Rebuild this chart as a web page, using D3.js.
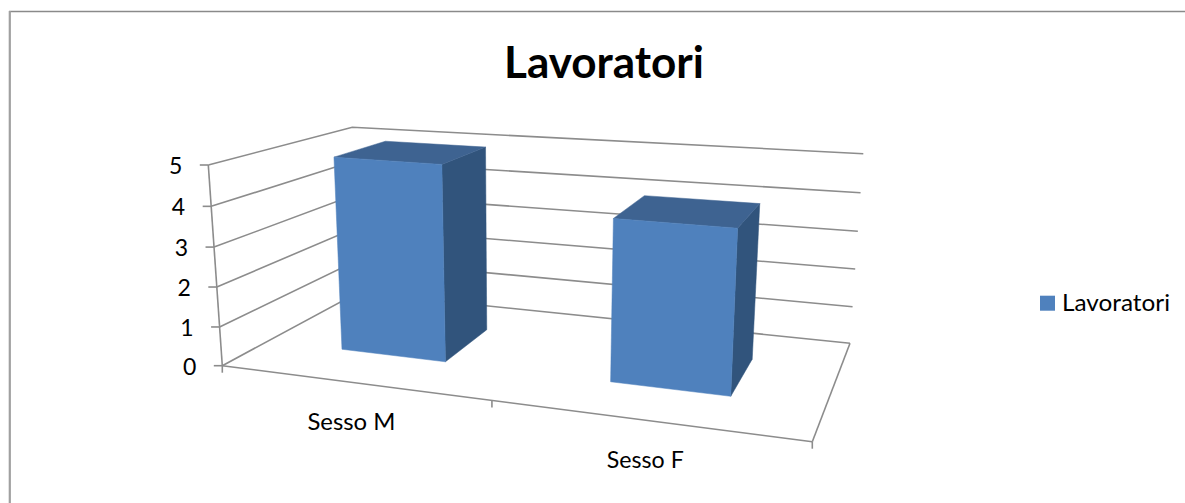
<!DOCTYPE html>
<html>
<head>
<meta charset="utf-8">
<script src="https://cdnjs.cloudflare.com/ajax/libs/d3/7.8.5/d3.min.js"></script>
<style>
html,body{margin:0;padding:0;background:#fff;overflow:hidden}
svg{display:block}
text{font-family:Lato,"Open Sans",sans-serif;fill:#000}
</style>
</head>
<body>
<svg id="chart" width="1185" height="503"></svg>
<script>
// Data
const chartTitle = "Lavoratori";
const seriesName = "Lavoratori";
const categories = ["Sesso M", "Sesso F"];
const seriesValues = [5, 4];
const valueTicks = [0, 1, 2, 3, 4, 5];

// Colours
const colFront = "#4f81bd", colTop = "#3e6391", colSide = "#31547c", colLine = "#8c8c8c";

// Screen position of the 8 corners of the chart box, indexed [x][value][depth]
const box = {
  "000": [222.3, 365.7], "100": [812.3, 441.7],
  "001": [358.0, 292.5], "101": [850.0, 343.3],
  "010": [208.3, 165.0], "110": [824.7, 211.0],
  "011": [352.3, 127.3], "111": [863.3, 153.7]
};

// Scales
const band = d3.scaleBand().domain(categories).range([0, 1]).paddingInner(0.6).paddingOuter(0.3);
const foreshorten = d3.scaleLinear()
  .domain([0, 0.15, 0.35, 0.5, 0.65, 0.85, 1])
  .range([0, 0.131, 0.317, 0.457, 0.614, 0.83, 1]);
const yScale = d3.scaleLinear().domain(valueTicks).range([0, 0.193, 0.392, 0.591, 0.794, 1]);
const barDepth = [0.345, 0.74];

// Trilinear projection from chart space into the picture
function project(t, value, z) {
  const u = foreshorten(t), v = yScale(value);
  const out = [0, 0];
  for (const a of [0, 1]) for (const b of [0, 1]) for (const c of [0, 1]) {
    const w = (a ? u : 1 - u) * (b ? v : 1 - v) * (c ? z : 1 - z);
    const p = box["" + a + b + c];
    out[0] += w * p[0]; out[1] += w * p[1];
  }
  return out;
}

const svg = d3.select("#chart");
const line = d3.line();
const closed = d3.line().curve(d3.curveLinearClosed);

// Outer frame
svg.append("line").attr("x1", 9).attr("x2", 1185).attr("y1", 11.5).attr("y2", 11.5)
  .attr("stroke", "#8a8a8a").attr("stroke-width", 1.4);
svg.append("line").attr("x1", 9.8).attr("x2", 9.8).attr("y1", 11).attr("y2", 503)
  .attr("stroke", "#a0a0a0").attr("stroke-width", 2.2);

const plot = svg.append("g");
const strokeLine = (pts) => plot.append("path").attr("d", line(pts)).attr("fill", "none")
  .attr("stroke", colLine).attr("stroke-width", 1.6);

// Gridlines over side wall and back wall
valueTicks.forEach(v => {
  strokeLine([project(0, v, 0), project(0, v, 1), project(1, v, 1)]);
});
// Floor front and right edges, value axis
strokeLine([project(0, 0, 0), project(1, 0, 0)]);
strokeLine([project(1, 0, 0), project(1, 0, 1)]);
strokeLine([project(0, 0, 0), project(0, 5, 0)]);

// Value ticks and labels
valueTicks.forEach(v => {
  const p = project(0, v, 0);
  strokeLine([[p[0] - 8.5, p[1]], p]);
  plot.append("text").attr("x", p[0] - 26).attr("y", p[1] + 9)
    .attr("text-anchor", "end").attr("font-size", 23).text(d3.format("d")(v));
});

// Category ticks
[0, 0.5, 1].forEach(t => {
  const p = project(t, 0, 0);
  strokeLine([p, [p[0], p[1] + 7]]);
});

// Category labels
const catWidths = [88, 77];
categories.forEach((c, i) => {
  const t = band(c) + band.bandwidth() / 2;
  const p = project(t, 0, 0);
  plot.append("text").attr("x", p[0] - 3).attr("y", p[1] + 47)
    .attr("text-anchor", "middle").attr("font-size", 23)
    .attr("textLength", catWidths[i]).attr("lengthAdjust", "spacingAndGlyphs").text(c);
});

// Bars
const poly = (pts, fill) => plot.append("path").attr("d", closed(pts)).attr("fill", fill)
  .attr("stroke", fill).attr("stroke-width", 0.5);
categories.forEach((c, i) => {
  const t0 = band(c), t1 = t0 + band.bandwidth(), val = seriesValues[i];
  const [z0, z1] = barDepth;
  poly([project(t1, 0, z0), project(t1, 0, z1), project(t1, val, z1), project(t1, val, z0)], colSide);
  poly([project(t0, val, z0), project(t1, val, z0), project(t1, val, z1), project(t0, val, z1)], colTop);
  poly([project(t0, 0, z0), project(t1, 0, z0), project(t1, val, z0), project(t0, val, z0)], colFront);
});

// Title
svg.append("text").attr("x", 604).attr("y", 78).attr("text-anchor", "middle")
  .attr("font-size", 44).attr("font-weight", 700)
  .attr("textLength", 200).attr("lengthAdjust", "spacingAndGlyphs").text(chartTitle);

// Legend
svg.append("rect").attr("x", 1040).attr("y", 295.7).attr("width", 15).attr("height", 15).attr("fill", colFront);
svg.append("text").attr("x", 1062).attr("y", 311).attr("font-size", 23)
  .attr("textLength", 108).attr("lengthAdjust", "spacingAndGlyphs").text(seriesName);
</script>
</body>
</html>
